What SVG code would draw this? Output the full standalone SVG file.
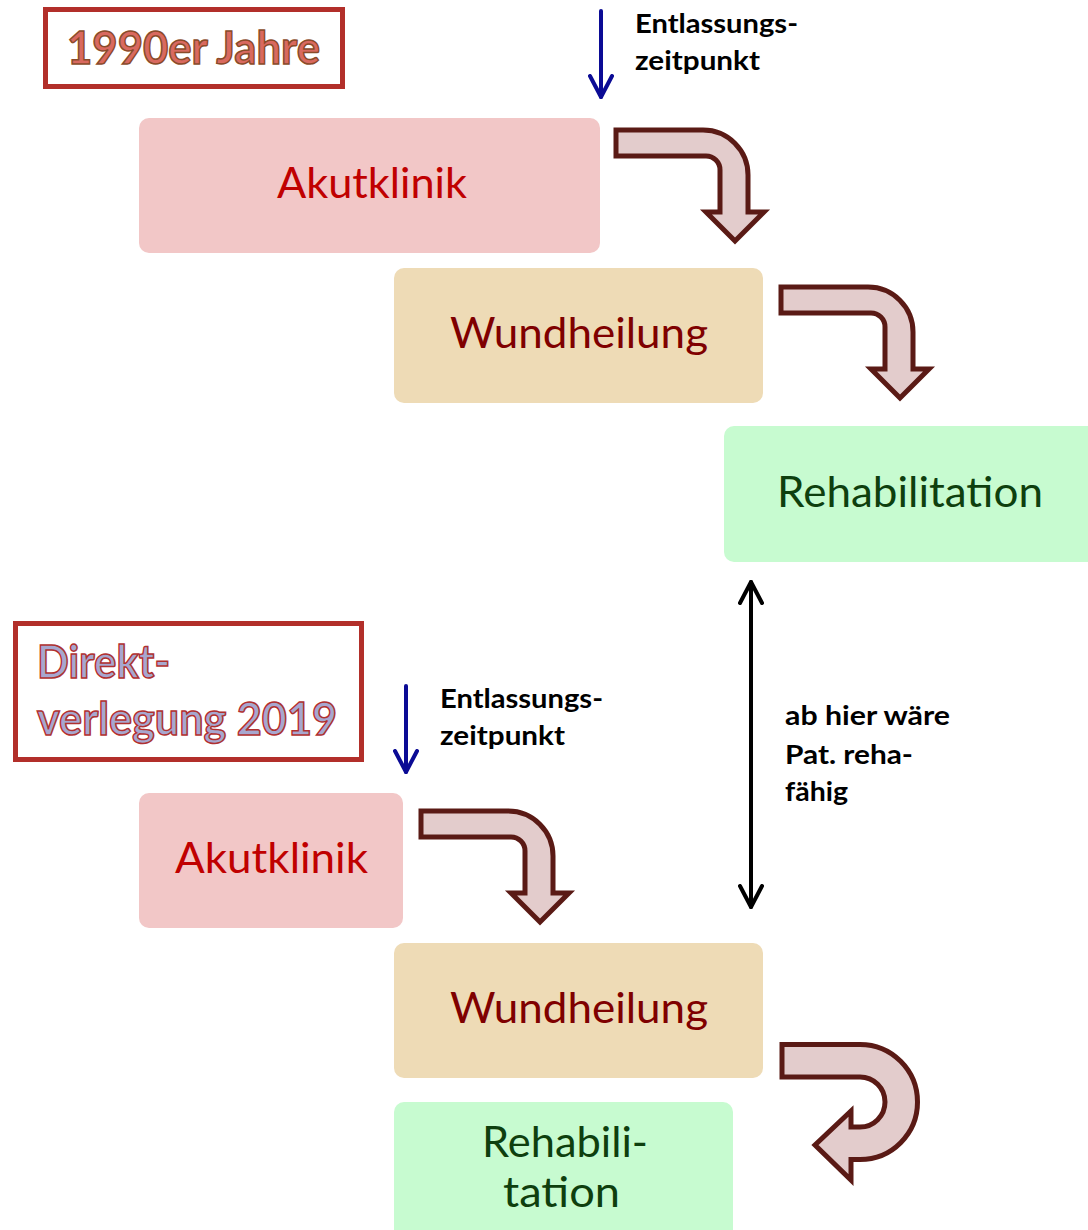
<svg xmlns="http://www.w3.org/2000/svg" width="1088" height="1230" viewBox="0 0 1088 1230">
<style>
.t{font-family:Lato,"Liberation Sans",sans-serif}
.big{font-size:43px}
.acute{fill:#F2C7C7}
.wound{fill:#EEDBB6}
.reha{fill:#C7FBD0}
.acuteT{fill:#C00000}
.woundT{fill:#7F0000}
.rehaT{fill:#0E3F0E}
.frame{fill:#fff;stroke:#B22F2A;stroke-width:5}
.title{font-weight:bold;font-size:45px;stroke-width:1.5}
.label{font-weight:bold;font-size:26px;fill:#000}
.bend{fill:#E3CCCC;stroke:#5A1A15;stroke-width:5;stroke-linejoin:miter}
.blue{stroke:#0B0B95;stroke-width:4;fill:none;stroke-linecap:round}
.black{stroke:#000;stroke-width:4;fill:none;stroke-linecap:round}
</style>
<defs>
<marker id="headBlue" viewBox="0 0 26 26" refX="23" refY="13" markerWidth="26" markerHeight="26" markerUnits="userSpaceOnUse" orient="auto-start-reverse">
<path d="M2,2 L23,13 L2,24" fill="none" stroke="#0B0B95" stroke-width="4" stroke-linecap="round" stroke-linejoin="round"/>
</marker>
<marker id="headBlack" viewBox="0 0 26 26" refX="23" refY="13" markerWidth="26" markerHeight="26" markerUnits="userSpaceOnUse" orient="auto-start-reverse">
<path d="M2,2 L23,13 L2,24" fill="none" stroke="#000" stroke-width="4" stroke-linecap="round" stroke-linejoin="round"/>
</marker>
<path id="bendShape" d="M616,130 H703 A45,45 0 0 1 748,175 V212 H764 L735,241 L706,212 H720 V170 A14,14 0 0 0 706,156 H616 Z"/>
</defs>

<g id="title1990">
<rect class="frame" x="45.5" y="9.5" width="297" height="77"/>
<text class="t title" x="67" y="64" textLength="253" lengthAdjust="spacingAndGlyphs" fill="#D9695F" stroke="#8A4B2A">1990er Jahre</text>
</g>

<g id="titleDirekt">
<rect class="frame" x="15.5" y="623.5" width="346" height="136"/>
<text class="t title" x="37" y="678" textLength="133" lengthAdjust="spacingAndGlyphs" fill="#A7A7CF" stroke="#B03030">Direkt-</text>
<text class="t title" x="37" y="735" textLength="300" lengthAdjust="spacingAndGlyphs" fill="#A7A7CF" stroke="#B03030">verlegung 2019</text>
</g>

<g id="akut1">
<rect class="acute" x="139" y="118" width="461" height="135" rx="10"/>
<text class="t big acuteT" x="277" y="198" textLength="190" lengthAdjust="spacingAndGlyphs">Akutklinik</text>
</g>
<g id="wund1">
<rect class="wound" x="394" y="268" width="369" height="135" rx="10"/>
<text class="t big woundT" x="450" y="348" textLength="258" lengthAdjust="spacingAndGlyphs">Wundheilung</text>
</g>
<g id="reha1">
<rect class="reha" x="724" y="426" width="380" height="136" rx="10"/>
<text class="t big rehaT" x="777" y="507" textLength="266" lengthAdjust="spacingAndGlyphs">Rehabilitation</text>
</g>
<g id="akut2">
<rect class="acute" x="139" y="793" width="264" height="135" rx="10"/>
<text class="t big acuteT" x="175" y="873" textLength="193" lengthAdjust="spacingAndGlyphs">Akutklinik</text>
</g>
<g id="wund2">
<rect class="wound" x="394" y="943" width="369" height="135" rx="10"/>
<text class="t big woundT" x="450" y="1023" textLength="258" lengthAdjust="spacingAndGlyphs">Wundheilung</text>
</g>
<g id="reha2">
<rect class="reha" x="394" y="1102" width="339" height="140" rx="10"/>
<text class="t big rehaT" x="482" y="1157" textLength="166" lengthAdjust="spacingAndGlyphs">Rehabili-</text>
<text class="t big rehaT" x="503" y="1207" textLength="117" lengthAdjust="spacingAndGlyphs">tation</text>
</g>

<g id="label-entlassung1">
<text class="t label" x="635" y="33" textLength="163" lengthAdjust="spacingAndGlyphs">Entlassungs-</text>
<text class="t label" x="635" y="70" textLength="125" lengthAdjust="spacingAndGlyphs">zeitpunkt</text>
</g>
<g id="label-entlassung2">
<text class="t label" x="440" y="708" textLength="163" lengthAdjust="spacingAndGlyphs">Entlassungs-</text>
<text class="t label" x="440" y="745" textLength="125" lengthAdjust="spacingAndGlyphs">zeitpunkt</text>
</g>
<g id="label-rehafaehig">
<text class="t label" x="785" y="725" textLength="165" lengthAdjust="spacingAndGlyphs">ab hier wäre</text>
<text class="t label" x="785" y="764" textLength="128" lengthAdjust="spacingAndGlyphs">Pat. reha-</text>
<text class="t label" x="785" y="801" textLength="63" lengthAdjust="spacingAndGlyphs">fähig</text>
</g>

<g id="connectors">
<line class="blue" x1="601" y1="11" x2="601" y2="97" marker-end="url(#headBlue)"/>
<line class="blue" x1="406" y1="686" x2="406" y2="772" marker-end="url(#headBlue)"/>
<line class="black" x1="751" y1="582" x2="751" y2="907" marker-start="url(#headBlack)" marker-end="url(#headBlack)"/>
<use href="#bendShape" class="bend"/>
<use href="#bendShape" class="bend" transform="translate(165,157)"/>
<use href="#bendShape" class="bend" transform="translate(-195,681)"/>
<path class="bend" d="M782,1044.5 H860 A57.5,57.5 0 0 1 860,1159.5 H851 V1180 L815,1145 L851,1111 V1127 H860 A25,25 0 0 0 860,1077 H782 Z"/>
</g>
</svg>
